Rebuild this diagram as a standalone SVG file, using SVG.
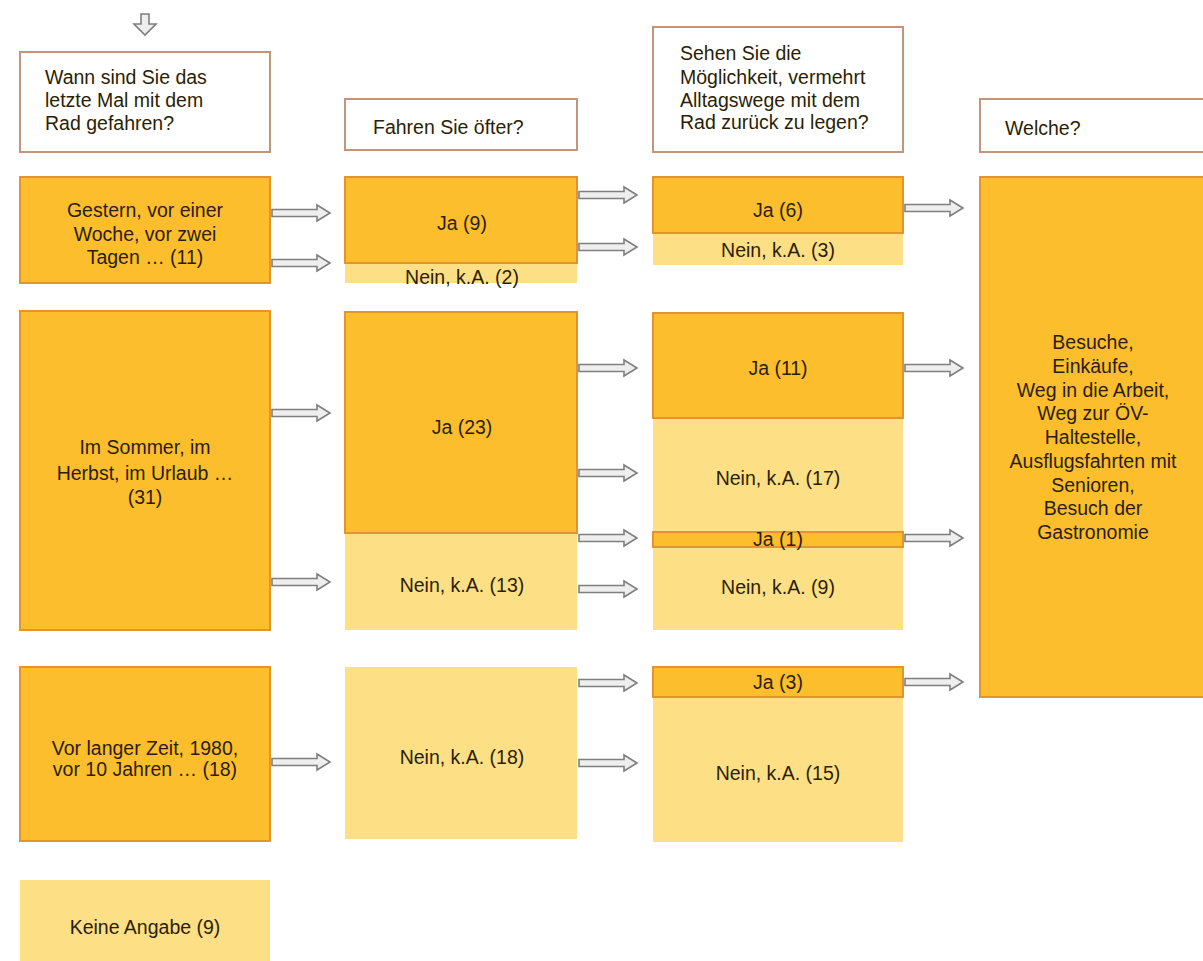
<svg xmlns="http://www.w3.org/2000/svg" xmlns:xlink="http://www.w3.org/1999/xlink" width="1203" height="961" viewBox="0 0 1203 961">
<style>
.q{fill:#ffffff;stroke:#c4957a;stroke-width:2}
.d{fill:#fdbe2e;stroke:#e4942f;stroke-width:2}
.l{fill:#fddf85;stroke:none}
text{font-family:"Liberation Sans",Arial,sans-serif;font-size:19.5px;fill:#2a1e05}
.c{text-anchor:middle}
.arr{fill:#eeeeee;stroke:#7f7f7f;stroke-width:1.6;stroke-linejoin:miter}
</style>
<defs>
<path id="ar" class="arr" d="M0,-3.5 H45 V-8 L58,0 L45,8 V3.5 H0 Z"/>
</defs>
<rect width="1203" height="961" fill="#ffffff"/>

<g id="start">
<path class="arr" d="M141,14 V24 H134 L145,35 L156,24 H149 V14 Z"/>
</g>

<g id="q1"><rect class="q" x="20" y="52" width="250" height="100"/>
<text x="45" y="84">Wann sind Sie das</text><text x="45" y="107">letzte Mal mit dem</text><text x="45" y="130">Rad gefahren?</text></g>
<g id="q2"><rect class="q" x="345" y="99" width="232" height="51"/>
<text x="373" y="134">Fahren Sie öfter?</text></g>
<g id="q3"><rect class="q" x="653" y="27" width="250" height="125"/>
<text x="680" y="60">Sehen Sie die</text><text x="680" y="84">Möglichkeit, vermehrt</text><text x="680" y="107">Alltagswege mit dem</text><text x="680" y="129">Rad zurück zu legen?</text></g>
<g id="q4"><rect class="q" x="980" y="99" width="230" height="53"/>
<text x="1005" y="135">Welche?</text></g>

<g id="a1"><rect class="d" x="20" y="177" width="250" height="106"/>
<text class="c" x="145" y="217">Gestern, vor einer</text><text class="c" x="145" y="241">Woche, vor zwei</text><text class="c" x="145" y="264">Tagen … (11)</text></g>
<g id="a2"><rect class="d" x="20" y="311" width="250" height="319"/>
<text class="c" x="145" y="454">Im Sommer, im</text><text class="c" x="145" y="480">Herbst, im Urlaub …</text><text class="c" x="145" y="504">(31)</text></g>
<g id="a3"><rect class="d" x="20" y="667" width="250" height="174"/>
<text class="c" x="145" y="755">Vor langer Zeit, 1980,</text><text class="c" x="145" y="776">vor 10 Jahren … (18)</text></g>
<g id="a4"><rect class="l" x="20" y="880" width="250" height="81"/>
<text class="c" x="145" y="934">Keine Angabe (9)</text></g>

<g id="b1n"><rect class="l" x="345" y="263" width="232" height="20"/>
<text class="c" x="462" y="284">Nein, k.A. (2)</text></g>
<g id="b1"><rect class="d" x="345" y="177" width="232" height="86"/>
<text class="c" x="462" y="230">Ja (9)</text></g>
<g id="b2n"><rect class="l" x="345" y="533" width="232" height="97"/>
<text class="c" x="462" y="592">Nein, k.A. (13)</text></g>
<g id="b2"><rect class="d" x="345" y="312" width="232" height="221"/>
<text class="c" x="462" y="434">Ja (23)</text></g>
<g id="b3"><rect class="l" x="345" y="667" width="232" height="172"/>
<text class="c" x="462" y="764">Nein, k.A. (18)</text></g>

<g id="c1n"><rect class="l" x="653" y="233" width="250" height="32"/>
<text class="c" x="778" y="257">Nein, k.A. (3)</text></g>
<g id="c1"><rect class="d" x="653" y="177" width="250" height="56"/>
<text class="c" x="778" y="217">Ja (6)</text></g>
<g id="c2n"><rect class="l" x="653" y="418" width="250" height="114"/>
<text class="c" x="778" y="485">Nein, k.A. (17)</text></g>
<g id="c2"><rect class="d" x="653" y="313" width="250" height="105"/>
<text class="c" x="778" y="375">Ja (11)</text></g>
<g id="c3n"><rect class="l" x="653" y="547" width="250" height="83"/>
<text class="c" x="778" y="594">Nein, k.A. (9)</text></g>
<g id="c3"><rect class="d" x="653" y="532" width="250" height="15"/>
<text class="c" x="778" y="546">Ja (1)</text></g>
<g id="c4n"><rect class="l" x="653" y="697" width="250" height="145"/>
<text class="c" x="778" y="780">Nein, k.A. (15)</text></g>
<g id="c4"><rect class="d" x="653" y="667" width="250" height="30"/>
<text class="c" x="778" y="689">Ja (3)</text></g>

<g id="d1"><rect class="d" x="980" y="177" width="230" height="520"/>
<text class="c" x="1093" y="349">Besuche,</text>
<text class="c" x="1093" y="373">Einkäufe,</text>
<text class="c" x="1093" y="397">Weg in die Arbeit,</text>
<text class="c" x="1093" y="420">Weg zur ÖV-</text>
<text class="c" x="1093" y="444">Haltestelle,</text>
<text class="c" x="1093" y="468">Ausflugsfahrten mit</text>
<text class="c" x="1093" y="492">Senioren,</text>
<text class="c" x="1093" y="515">Besuch der</text>
<text class="c" x="1093" y="539">Gastronomie</text></g>

<g id="connectors">
<use xlink:href="#ar" x="272" y="213"/>
<use xlink:href="#ar" x="272" y="263"/>
<use xlink:href="#ar" x="272" y="413"/>
<use xlink:href="#ar" x="272" y="582"/>
<use xlink:href="#ar" x="272" y="762"/>
<use xlink:href="#ar" x="579" y="195"/>
<use xlink:href="#ar" x="579" y="247"/>
<use xlink:href="#ar" x="579" y="368"/>
<use xlink:href="#ar" x="579" y="473"/>
<use xlink:href="#ar" x="579" y="538"/>
<use xlink:href="#ar" x="579" y="589"/>
<use xlink:href="#ar" x="579" y="683"/>
<use xlink:href="#ar" x="579" y="763"/>
<use xlink:href="#ar" x="905" y="208"/>
<use xlink:href="#ar" x="905" y="368"/>
<use xlink:href="#ar" x="905" y="538"/>
<use xlink:href="#ar" x="905" y="682"/>
</g>
</svg>
